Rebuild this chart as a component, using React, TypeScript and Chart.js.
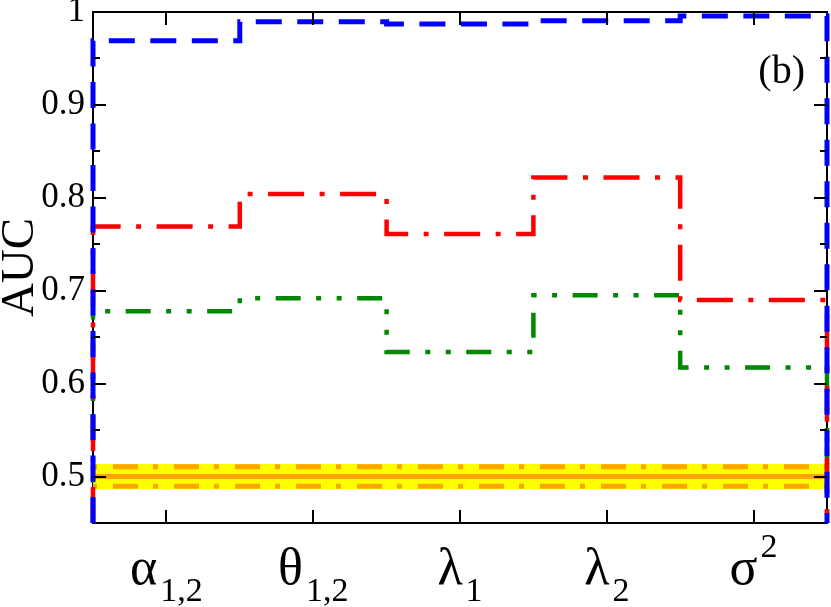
import React, { useEffect, useRef } from 'react';
import { Chart, registerables } from 'chart.js';

Chart.register(...registerables);

// ---- data ----
const categoryLetters = ['α', 'θ', 'λ', 'λ', 'σ'];
const categorySubs = ['1,2', '1,2', '1', '2', ''];
const categorySups = ['', '', '', '', '2'];
const blueAUC = [0.969, 0.9895, 0.987, 0.9905, 0.9957];
const redAUC = [0.769, 0.804, 0.761, 0.822, 0.69];
const greenAUC = [0.678, 0.692, 0.634, 0.695, 0.6175];
const baselineMean = 0.5;
const baselineBandHalf = 0.0135;
const baselineLineHalf = 0.0105;
const yTicks = [0.5, 0.6, 0.7, 0.8, 0.9, 1.0];
const yMinorTicks = [0.55, 0.65, 0.75, 0.85, 0.95];
const yMin = 0.45;
const yMax = 1.0;
const yTitle = 'AUC';
const panelTag = '(b)';

const SERIF = '"Liberation Serif", "Times New Roman", serif';

function stepPoints(values: number[], floor: number) {
  const pts: { x: number; y: number }[] = [{ x: 0.5, y: floor }];
  values.forEach((v, i) => {
    pts.push({ x: i + 0.5, y: v });
    pts.push({ x: i + 1.5, y: v });
  });
  pts.push({ x: values.length + 0.5, y: floor });
  return pts;
}

function flat(v: number) {
  return [
    { x: 0.5, y: v },
    { x: categoryLetters.length + 0.5, y: v },
  ];
}

const framePlugin = {
  id: 'frame',
  beforeDatasetsDraw(chart: any) {
    const { ctx, chartArea } = chart;
    ctx.save();
    ctx.strokeStyle = '#000';
    ctx.lineWidth = 2;
    ctx.strokeRect(chartArea.left, chartArea.top, chartArea.right - chartArea.left, chartArea.bottom - chartArea.top);
    ctx.restore();
  },
  afterDatasetsDraw(chart: any) {
    const { ctx, chartArea, scales } = chart;
    const ys = scales.y;
    const xs = scales.x;
    ctx.save();
    ctx.strokeStyle = '#000';
    ctx.lineWidth = 2;
    ctx.beginPath();
    const tick = (v: number, len: number) => {
      const py = Math.round(ys.getPixelForValue(v));
      ctx.moveTo(chartArea.left, py);
      ctx.lineTo(chartArea.left + len, py);
      ctx.moveTo(chartArea.right, py);
      ctx.lineTo(chartArea.right - len, py);
    };
    yTicks.forEach((v) => tick(v, 13));
    yMinorTicks.forEach((v) => tick(v, 7));
    categoryLetters.forEach((_, i) => {
      const px = Math.round(xs.getPixelForValue(i + 1));
      ctx.moveTo(px, chartArea.bottom);
      ctx.lineTo(px, chartArea.bottom - 13);
      ctx.moveTo(px, chartArea.top);
      ctx.lineTo(px, chartArea.top + 13);
    });
    ctx.stroke();
    ctx.restore();
  },
  afterDraw(chart: any) {
    const { ctx, chartArea, scales } = chart;
    const xs = scales.x;
    ctx.save();
    ctx.fillStyle = '#000';
    // x category labels with sub/superscripts
    categoryLetters.forEach((letter, i) => {
      const px = xs.getPixelForValue(i + 1);
      ctx.font = `52px ${SERIF}`;
      const wMain = ctx.measureText(letter).width;
      const extra = categorySubs[i] || categorySups[i];
      ctx.font = `34px ${SERIF}`;
      const wExtra = extra ? ctx.measureText(extra).width + 3 : 0;
      const start = px - (wMain + wExtra) / 2;
      ctx.textAlign = 'left';
      ctx.textBaseline = 'alphabetic';
      ctx.font = `52px ${SERIF}`;
      ctx.fillText(letter, start, chartArea.bottom + 61);
      ctx.font = `34px ${SERIF}`;
      if (categorySubs[i]) ctx.fillText(categorySubs[i], start + wMain + 3, chartArea.bottom + 78);
      if (categorySups[i]) ctx.fillText(categorySups[i], start + wMain + 3, chartArea.bottom + 34);
    });
    // y title
    ctx.save();
    ctx.font = `47px ${SERIF}`;
    ctx.translate(33, (chartArea.top + chartArea.bottom) / 2);
    ctx.rotate(-Math.PI / 2);
    ctx.textAlign = 'center';
    ctx.textBaseline = 'alphabetic';
    ctx.fillText(yTitle, 0, 0);
    ctx.restore();
    // panel tag
    ctx.font = `40px ${SERIF}`;
    ctx.textAlign = 'right';
    ctx.textBaseline = 'alphabetic';
    ctx.fillText(panelTag, chartArea.right - 22, chartArea.top + 71);
    ctx.restore();
  },
};

export default function App() {
  const ref = useRef<HTMLCanvasElement | null>(null);
  useEffect(() => {
    if (!ref.current) return;
    const common = { pointRadius: 0, tension: 0, borderCapStyle: 'butt', borderJoinStyle: 'miter', clip: false };
    const chart = new Chart(ref.current, {
      type: 'line',
      data: {
        datasets: [
          { ...common, data: stepPoints(blueAUC, yMin), borderColor: '#0000ff', borderWidth: 5, borderDash: [26, 15.5], fill: false },
          { ...common, data: stepPoints(redAUC, yMin), borderColor: '#ff0000', borderWidth: 4.5, borderDash: [36, 15.5, 5, 15.5], fill: false },
          { ...common, data: stepPoints(greenAUC, yMin), borderColor: '#008800', borderWidth: 4.5, borderDash: [25, 15.5, 5, 15.5, 5, 15.5], fill: false },
          { ...common, data: flat(baselineMean), borderColor: '#ffa500', borderWidth: 5, fill: false },
          { ...common, data: flat(baselineMean + baselineLineHalf), borderColor: '#ffa500', borderWidth: 5, borderDash: [25, 15, 5, 16], borderDashOffset: 41, fill: false },
          { ...common, data: flat(baselineMean - baselineLineHalf), borderColor: '#ffa500', borderWidth: 5, borderDash: [25, 15, 5, 16], borderDashOffset: 41, fill: false },
          { ...common, data: flat(baselineMean + baselineBandHalf), borderWidth: 0, borderColor: 'rgba(0,0,0,0)', backgroundColor: '#ffff00', fill: '+1' },
          { ...common, data: flat(baselineMean - baselineBandHalf), borderWidth: 0, borderColor: 'rgba(0,0,0,0)', fill: false },
        ] as any,
      },
      options: {
        animation: false,
        responsive: false,
        devicePixelRatio: 1,
        layout: { padding: { top: 12, right: 4, bottom: 84, left: 0 } },
        plugins: { legend: { display: false }, tooltip: { enabled: false } },
        scales: {
          x: { type: 'linear', min: 0.5, max: categoryLetters.length + 0.5, display: false },
          y: {
            type: 'linear',
            min: yMin,
            max: yMax,
            afterBuildTicks: (scale: any) => {
              scale.ticks = yTicks.map((v) => ({ value: v }));
            },
            afterFit: (scale: any) => {
              scale.width = 93;
              scale.paddingTop = 0;
              scale.paddingBottom = 0;
            },
            grid: { display: false, drawTicks: false },
            border: { display: false },
            ticks: {
              color: '#000',
              padding: 8,
              font: { family: SERIF, size: 35 },
              callback: (v: any) => (Math.abs(v - 1) < 1e-9 ? '1' : Number(v).toFixed(1)),
            },
          },
        },
      } as any,
      plugins: [framePlugin],
    });
    return () => chart.destroy();
  }, []);
  return (
    <div style={{ position: 'fixed', left: 0, top: 0, width: 831, height: 607, background: '#fff' }}>
      <canvas ref={ref} width={831} height={607} style={{ width: 831, height: 607, display: 'block' }} />
    </div>
  );
}
